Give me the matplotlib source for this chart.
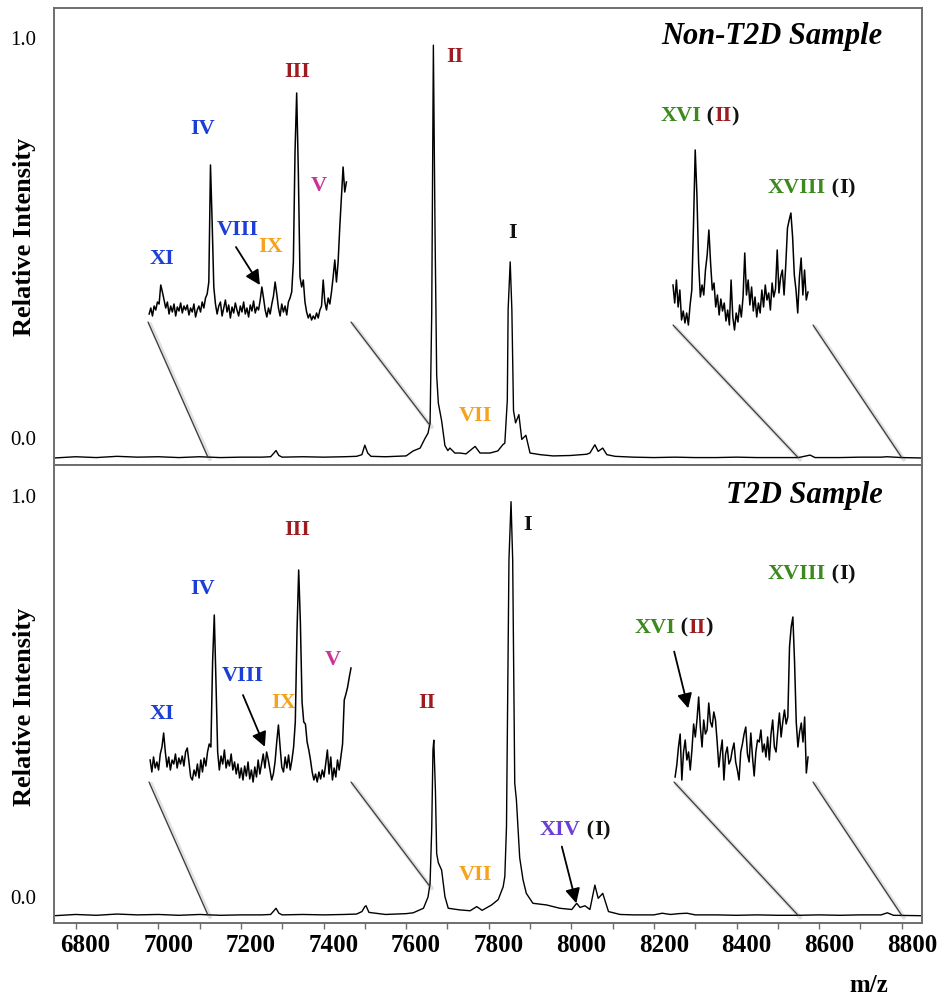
import numpy as np
import matplotlib
matplotlib.use("Agg")
import matplotlib.pyplot as plt
from matplotlib.patches import ConnectionPatch
from matplotlib.transforms import ScaledTranslation
import matplotlib.patheffects as pe

plt.rcParams["font.family"] = ["Liberation Serif", "DejaVu Serif"]

# ---------------- spectra (m/z, relative intensity) ----------------
mz_top = [6748, 6800, 6850, 6900, 6950, 7000, 7050, 7100, 7150, 7200, 7250,
          7272, 7280, 7285, 7292, 7300, 7350, 7400, 7450, 7480, 7493, 7500,
          7507, 7515, 7550, 7600, 7617, 7634, 7646, 7653, 7658, 7662, 7666,
          7670, 7674, 7678, 7686, 7694, 7701, 7706, 7718, 7730, 7745, 7767,
          7779, 7803, 7822, 7834, 7839, 7845, 7847, 7852, 7856, 7860, 7865,
          7873, 7880, 7890, 7900, 7925, 7956, 7997, 8037, 8045, 8057, 8065,
          8076, 8086, 8106, 8150, 8200, 8250, 8300, 8350, 8400, 8450, 8500,
          8550, 8578, 8590, 8650, 8700, 8750, 8764, 8800, 8849]
int_top = [0.000, 0.003, 0.001, 0.004, 0.002, 0.003, 0.001, 0.003, 0.001, 0.002, 0.002,
           0.003, 0.012, 0.018, 0.006, 0.002, 0.003, 0.002, 0.003, 0.004, 0.008, 0.031,
           0.012, 0.004, 0.003, 0.005, 0.017, 0.024, 0.048, 0.060, 0.085, 0.350, 1.000,
           0.550, 0.200, 0.133, 0.090, 0.030, 0.018, 0.024, 0.012, 0.012, 0.010, 0.028,
           0.012, 0.012, 0.017, 0.032, 0.036, 0.140, 0.360, 0.475, 0.360, 0.115, 0.085,
           0.105, 0.045, 0.055, 0.012, 0.008, 0.005, 0.006, 0.009, 0.012, 0.032, 0.016,
           0.024, 0.008, 0.004, 0.002, 0.001, 0.002, 0.001, 0.001, 0.002, 0.001, 0.001,
           0.001, 0.007, 0.001, 0.001, 0.002, 0.002, 0.003, 0.001, 0.000]

mz_bot = [6748, 6800, 6850, 6900, 6950, 7000, 7050, 7100, 7150, 7200, 7250,
          7272, 7280, 7285, 7292, 7300, 7350, 7400, 7450, 7480, 7493, 7500,
          7503, 7510, 7550, 7600, 7617, 7642, 7653, 7658, 7662, 7665, 7667,
          7671, 7674, 7678, 7686, 7694, 7702, 7730, 7755, 7771, 7784, 7807,
          7823, 7835, 7839, 7843, 7849, 7854, 7858, 7863, 7867, 7875, 7883,
          7891, 7907, 7940, 7972, 8001, 8013, 8021, 8033, 8045, 8057, 8065,
          8076, 8090, 8118, 8150, 8200, 8220, 8240, 8260, 8280, 8300, 8350,
          8400, 8450, 8500, 8550, 8600, 8650, 8700, 8750, 8765, 8780, 8849]
int_bot = [0.000, 0.003, 0.001, 0.004, 0.002, 0.003, 0.001, 0.003, 0.001, 0.002, 0.002,
           0.003, 0.012, 0.018, 0.006, 0.002, 0.003, 0.002, 0.003, 0.004, 0.010, 0.022,
           0.024, 0.008, 0.003, 0.005, 0.007, 0.018, 0.045, 0.078, 0.210, 0.400, 0.424,
           0.300, 0.150, 0.128, 0.110, 0.046, 0.018, 0.014, 0.012, 0.022, 0.013, 0.026,
           0.039, 0.070, 0.095, 0.215, 0.860, 1.000, 0.860, 0.320, 0.280, 0.140, 0.087,
           0.054, 0.030, 0.026, 0.018, 0.015, 0.030, 0.020, 0.024, 0.015, 0.074, 0.042,
           0.054, 0.010, 0.003, 0.002, 0.002, 0.006, 0.003, 0.005, 0.006, 0.002, 0.002,
           0.001, 0.002, 0.001, 0.001, 0.002, 0.001, 0.002, 0.002, 0.007, 0.001, 0.000]

# ---------------- magnified regions (arbitrary units) ----------------
zoom_low = (7120, 7650)     # m/z window of the left magnified trace
zoom_high = (8549, 8800)    # m/z window of the right magnified trace
zoom_low_anchor = (7120, 7657)
zoom_high_anchor = (8549, 8800)

low_top = [8, 14, 6, 16, 12, 20, 18, 37, 30, 22,
           14, 20, 8, 16, 10, 18, 6, 15, 11, 19,
           9, 16, 12, 17, 7, 14, 10, 18, 5, 12,
           16, 10, 20, 14, 24, 28, 40, 157, 100, 35,
           18, 8, 16, 20, 6, 14, 22, 10, 17, 4,
           15, 9, 19, 12, 6, 16, 10, 20, 8, 14,
           5, 17, 11, 21, 9, 15, 12, 22, 35, 24,
           12, 5, 14, 8, 18, 26, 40, 28, 14, 6,
           18, 10, 16, 7, 20, 24, 30, 60, 170, 229,
           150, 45, 35, 42, 20, 10, 4, 8, 2, 6,
           3, 9, 4, 12, 16, 42, 20, 12, 24, 18,
           30, 45, 62, 40, 60, 95, 125, 155, 130, 140]
low_top_mz = (7123, 7638)

high_top = [40, 22, 45, 18, 35, 5, 14, 2, 12, 0,
            20, 35, 100, 175, 130, 62, 28, 40, 30, 55,
            70, 95, 62, 35, 42, 18, 30, 10, 26, 14,
            22, 4, 15, 0, 45, 8, -5, 12, 3, 20,
            8, 28, 72, 30, 45, 20, 38, 14, 28, 8,
            22, 12, 35, 18, 40, 25, 32, 15, 42, 28,
            36, 75, 32, 48, 55, 30, 60, 97, 105, 112,
            88, 50, 35, 12, 48, 67, 30, 55, 25, 33]
high_top_mz = (8549, 8791)

low_bot = [22, 10, 25, 14, 20, 12, 28, 35, 49, 30,
           15, 25, 12, 22, 18, 28, 14, 24, 18, 26,
           16, 30, 34, 20, 5, 2, 12, 6, 18, 4,
           22, 10, 24, 16, 30, 38, 35, 120, 167, 100,
           30, 12, 26, 18, 32, 14, 22, 16, 28, 12,
           20, 8, 18, 4, 14, 2, 16, 6, 20, 3,
           12, 0, 15, 5, 22, 8, 18, 28, 14, 30,
           22, 12, 2, 8, 20, 40, 57, 35, 15, 10,
           25, 14, 27, 12, 22, 35, 60, 150, 212, 160,
           80, 60, 58, 40, 32, 22, 10, 2, 8, 0,
           10, 3, 12, 5, 18, 32, 8, 25, 2, 14,
           5, 22, 12, 25, 38, 82, 88, 95, 105, 114]
low_bot_mz = (7123, 7650)

high_bot = [5, 17, 35, 48, 2, 30, 42, 22, 30, 12,
            32, 58, 45, 62, 85, 55, 35, 62, 48, 52,
            79, 60, 55, 70, 62, 40, 15, 30, 42, 2,
            28, 35, 18, 22, 32, 39, 20, 12, 2, 30,
            38, 48, 55, 28, 20, 49, 25, 6, 30, 42,
            40, 52, 30, 38, 25, 45, 22, 48, 62, 35,
            30, 50, 69, 45, 60, 72, 58, 65, 135, 155,
            165, 120, 60, 35, 50, 59, 40, 65, 9, 25]
high_bot_mz = (8551, 8791)

# ---------------- annotations ----------------
RED = "#9e1b22"
BLUE = "#1b3fd6"
ORANGE = "#f5a21c"
MAGENTA = "#cc3399"
GREEN = "#3c8a1e"
PURPLE = "#6a3fd8"
BLACK = "#111111"

labels_top = [("II", 7718, 0.971, RED), ("III", 7336, 0.935, RED),
              ("IV", 7108, 0.797, BLUE), ("V", 7389, 0.659, MAGENTA),
              ("VIII", 7193, 0.552, BLUE), ("IX", 7272, 0.511, ORANGE),
              ("XI", 7009, 0.482, BLUE), ("VII", 7769, 0.102, ORANGE),
              ("I", 7858, 0.545, BLACK)]
multi_top = [(8215, 0.828, [("XVI", GREEN), (" (", BLACK), ("II", RED), (")", BLACK)]),
             (8476, 0.654, [("XVIII", GREEN), (" (", BLACK), ("I", BLACK), (")", BLACK)])]
arrows_top = [((7188, 0.511), (7246, 0.419))]

labels_bot = [("III", 7336, 0.932, RED), ("IV", 7108, 0.789, BLUE),
              ("V", 7422, 0.618, MAGENTA), ("VIII", 7204, 0.579, BLUE),
              ("IX", 7304, 0.514, ORANGE), ("XI", 7009, 0.487, BLUE),
              ("II", 7651, 0.514, RED), ("VII", 7769, 0.098, ORANGE),
              ("I", 7893, 0.944, BLACK)]
multi_bot = [(8152, 0.695, [("XVI", GREEN), (" (", BLACK), ("II", RED), (")", BLACK)]),
             (8476, 0.825, [("XVIII", GREEN), (" (", BLACK), ("I", BLACK), (")", BLACK)]),
             (7924, 0.207, [("XIV", PURPLE), (" (", BLACK), ("I", BLACK), (")", BLACK)])]
arrows_bot = [((7205, 0.533), (7258, 0.408)),
              ((7977, 0.167), (8012, 0.030)),
              ((8249, 0.638), (8283, 0.501))]

xticks_major = [6800, 7000, 7200, 7400, 7600, 7800, 8000, 8200, 8400, 8600, 8800]
xticks_minor = [6900, 7100, 7300, 7500, 7700, 7900, 8100, 8300, 8500, 8700]

# ---------------- figure ----------------
W, H = 943, 998
fig = plt.figure(figsize=(W / 100, H / 100), dpi=100)
SPINE = "#6e6e6e"


def px_box(left, top, right, bottom):
    return [left / W, 1 - bottom / H, (right - left) / W, (bottom - top) / H]


ax_top = fig.add_axes(px_box(54, 8, 922, 465))
ax_bot = fig.add_axes(px_box(54, 465, 922, 923), sharex=ax_top)

for ax in (ax_top, ax_bot):
    ax.set_xlim(6747.5, 8849)
    for s in ax.spines.values():
        s.set_color(SPINE)
        s.set_linewidth(1.4)
    ax.set_yticks([0.0, 1.0])
    ax.set_yticklabels(["0.0", "1.0"])
    ax.tick_params(axis="y", length=0, pad=13, labelsize=15)
    ax.set_ylabel("Relative Intensity", fontsize=19, fontweight="bold")

ax_top.set_ylim(-0.017, 1.09)
ax_bot.set_ylim(-0.0176, 1.0886)
ax_top.yaxis.set_label_coords(-0.021, 0.5)
ax_bot.yaxis.set_label_coords(-0.021, 0.472)

ax_top.plot(mz_top, int_top, color="black", lw=1.0)
ax_bot.plot(mz_bot, int_bot, color="black", lw=1.0)

ax_bot.set_xticks(xticks_major)
ax_bot.set_xticks(xticks_minor, minor=True)
ax_bot.set_xticklabels([str(t) for t in xticks_major])
ax_bot.tick_params(axis="x", which="both", direction="out", length=4, width=1,
                   color=SPINE, pad=4)
ax_bot.tick_params(axis="x", labelsize=18)
for lab in ax_bot.get_xticklabels():
    lab.set_fontweight("bold")
ax_top.tick_params(axis="x", which="both", length=0, labelbottom=False)


def shift(text, dx, dy):
    text.set_transform(text.get_transform() +
                       ScaledTranslation(dx / 100, dy / 100, fig.dpi_scale_trans))


for t in ax_bot.xaxis.get_major_ticks():
    shift(t.label1, 10, 0)
for ax, (d0, d1) in ((ax_top, (20, 7)), (ax_bot, (19, 6))):
    ticks = ax.yaxis.get_major_ticks()
    shift(ticks[0].label1, 0, d0)
    shift(ticks[1].label1, 0, d1)

ax_top.text(0.954, 0.937, "Non-T2D Sample", transform=ax_top.transAxes, ha="right",
            va="center", fontsize=22, fontweight="bold", style="italic")
ax_bot.text(0.955, 0.934, "T2D Sample", transform=ax_bot.transAxes, ha="right",
            va="center", fontsize=22, fontweight="bold", style="italic")
fig.text(869 / W, 1 - 985 / H, "m/z", ha="center", va="center", fontsize=18,
         fontweight="bold")

LABEL_KW = dict(fontsize=16, fontweight="bold")


def put_labels(ax, singles, multis, arrows):
    for txt, x, y, c in singles:
        ax.text(x, y, txt, color=c, ha="center", va="center", **LABEL_KW)
    for x, y, parts in multis:
        t = ax.text(x, y, parts[0][0], color=parts[0][1], ha="left", va="center",
                    **LABEL_KW)
        for s, c in parts[1:]:
            t = ax.annotate(s, xy=(1, 0), xycoords=t, ha="left", va="bottom",
                            color=c, **LABEL_KW)
    for tail, tip in arrows:
        ax.annotate("", xy=tip, xytext=tail,
                    arrowprops=dict(arrowstyle="-|>,head_length=0.55,head_width=0.28",
                                    color="black", lw=1.3, shrinkA=0, shrinkB=0,
                                    mutation_scale=16))


put_labels(ax_top, labels_top, multi_top, arrows_top)
put_labels(ax_bot, labels_bot, multi_bot, arrows_bot)


def magnified(ax, box, xlim, ylim, values, mz_span, anchor, main_mz, main_int):
    ins = fig.add_axes(px_box(*box))
    ins.set_axis_off()
    ins.set_xlim(*xlim)
    ins.set_ylim(*ylim)
    xs = np.linspace(mz_span[0], mz_span[1], len(values))
    ins.plot(xs, values, color="black", lw=1.1, clip_on=False)
    for corner, mz in ((0, anchor[0]), (1, anchor[1])):
        y = float(np.interp(mz, main_mz, main_int))
        con = ConnectionPatch(xyA=(corner, 0), coordsA=ins.transAxes,
                              xyB=(mz, y), coordsB=ax.transData,
                              color="#3a3a3a", lw=0.9)
        con.set_path_effects([pe.SimpleLineShadow(offset=(1.5, -1.5), alpha=0.12,
                                                  linewidth=3),
                              pe.Normal()])
        fig.add_artist(con)
    return ins


magnified(ax_top, (148, 90, 351, 322), zoom_low, (0, 232), low_top, low_top_mz,
          zoom_low_anchor, mz_top, int_top)
magnified(ax_top, (673, 90, 813, 325), zoom_high, (0, 235), high_top, high_top_mz,
          zoom_high_anchor, mz_top, int_top)
magnified(ax_bot, (149, 550, 351, 782), zoom_low, (0, 232), low_bot, low_bot_mz,
          zoom_low_anchor, mz_bot, int_bot)
magnified(ax_bot, (674, 550, 813, 782), zoom_high, (0, 232), high_bot, high_bot_mz,
          zoom_high_anchor, mz_bot, int_bot)

fig.savefig("out.png", dpi=100)
